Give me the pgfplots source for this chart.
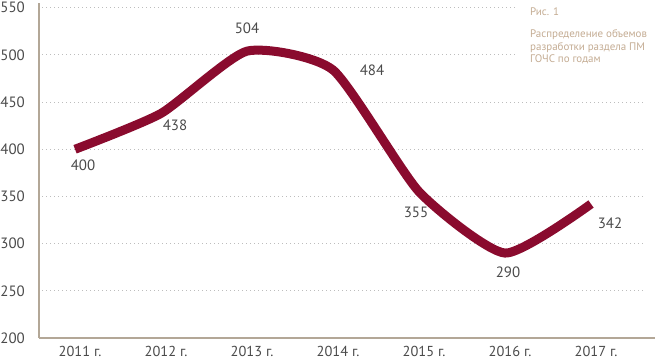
\documentclass[border=0pt]{standalone}
\usepackage{fontspec}
\setmainfont{PT Sans}
\usepackage{pgfplots}
\pgfplotsset{compat=1.18}
\usetikzlibrary{calc}
\definecolor{lineC}{HTML}{8A0B2E}
\definecolor{spine}{HTML}{B3A797}
\definecolor{gridC}{HTML}{BDBDBD}
\definecolor{txt}{HTML}{4A4A4A}
\definecolor{cap}{HTML}{C4AC93}
\begin{document}
\begin{tikzpicture}
\begin{axis}[name=ax, scale only axis, width=616bp, height=335bp,
  xmin=-0.419, xmax=6.744, ymin=200, ymax=555,
  axis x line=bottom, axis y line=left,
  axis line style={-, draw=spine, line width=1.2bp},
  xtick={0,...,6},
  xticklabels={2011 г.,2012 г.,2013 г.,2014 г.,2015 г.,2016 г.,2017 г.},
  ytick={200,250,...,550},
  major tick length=0pt,
  tick label style={font=\fontsize{15}{18}\selectfont, text=txt},
  /pgf/number format/assume math mode=true,
  yticklabel style={anchor=east, inner sep=0pt, xshift=-14bp},
  xticklabel style={anchor=north, inner sep=0pt, yshift=-8bp, xshift=5bp, font=\fontsize{14.5}{16}\selectfont},
  clip=false,
]
\pgfplotsinvokeforeach{250,300,350,400,450}{
  \draw[gridC, line width=1bp, dash pattern=on 1bp off 3bp] (axis cs:-0.38,#1) -- (axis cs:6.63,#1);
}
\draw[gridC, line width=1bp, dash pattern=on 1bp off 3bp] (axis cs:-0.38,500) -- (axis cs:5.12,500);
\draw[gridC, line width=1bp, dash pattern=on 1bp off 3bp] (axis cs:-0.38,550) -- (axis cs:5.12,550);
\addplot[lineC, line width=9bp, smooth, tension=0.35, line join=round, mark=none,
  nodes near coords, point meta=explicit,
  visualization depends on={\thisrow{dx}\as\dx},
  visualization depends on={\thisrow{dy}\as\dy},
  nodes near coords style={anchor=center, xshift=\dx*1bp, yshift=\dy*1bp,
    font=\fontsize{15}{18}\selectfont, text=txt, inner sep=0pt}]
table[x=x, y=y, meta=y] {
x y dx dy
0 400 8 -16
1 438 14 -12
2 504 0 23
3 484 39 0
4 355 -3 -21
5 290 3 -19
6 342 19 -19
};
\node[anchor=west, text=cap, font=\fontsize{11}{13}\selectfont, inner sep=0pt] at (axis cs:5.29,545.4) {Рис. 1};
\node[anchor=north west, align=left, text=cap, font=\fontsize{11}{12.5}\selectfont, inner sep=0pt] at (axis cs:5.29,527) {Распределение объемов\\разработки раздела ПМ\\ГОЧС по годам};
\end{axis}
\pgfresetboundingbox
\path ($(ax.south west)+(-39bp,-23bp)$) rectangle ($(ax.north east)+(0,3bp)$);
\end{tikzpicture}
\end{document}
